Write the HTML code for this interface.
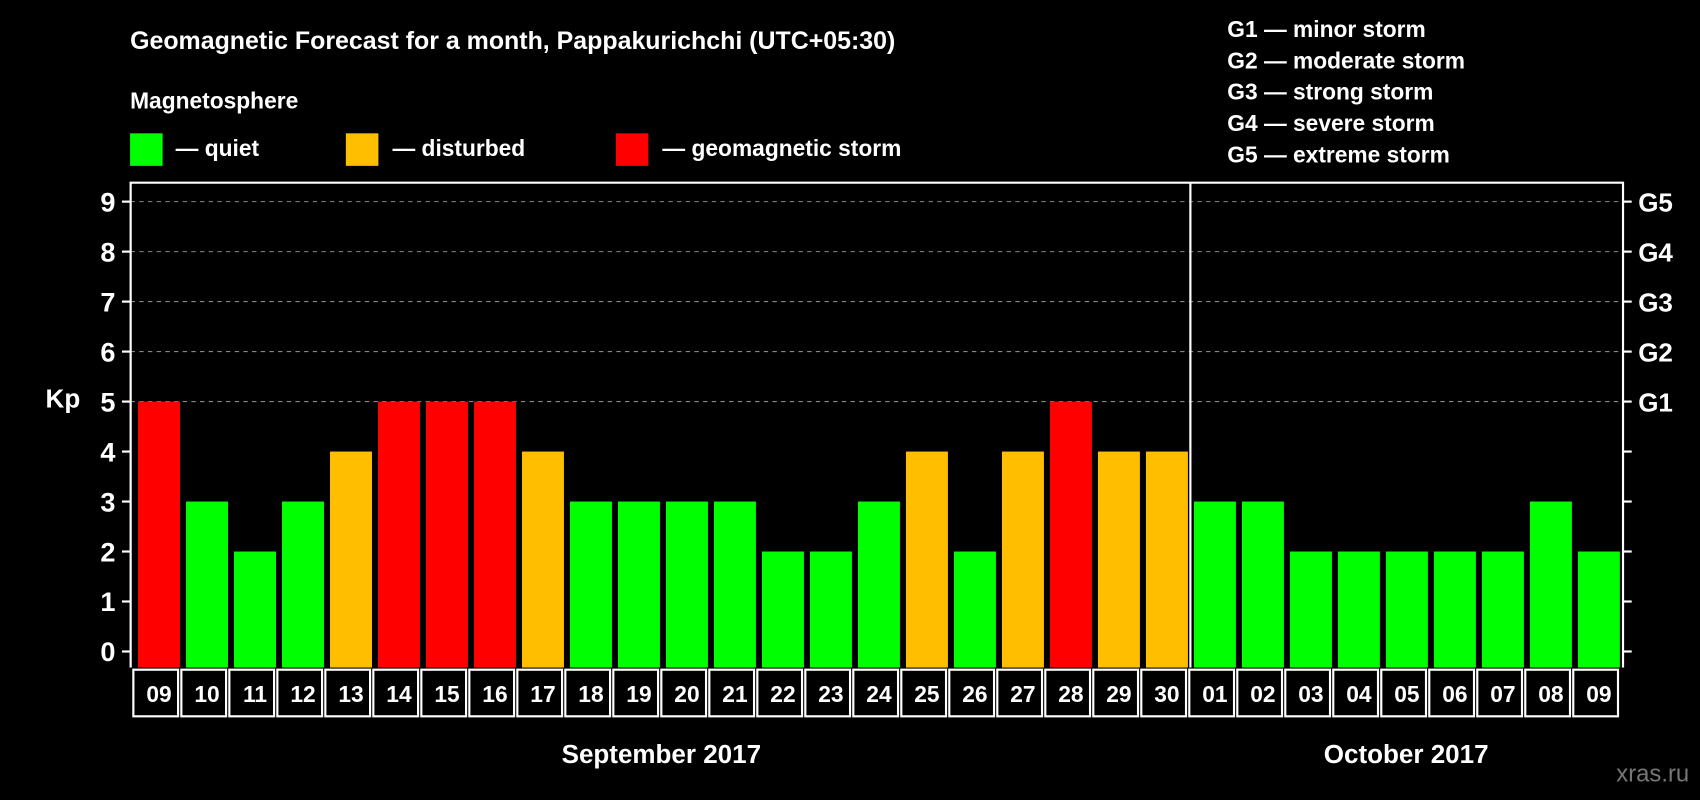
<!DOCTYPE html>
<html><head><meta charset="utf-8"><style>
html,body{margin:0;padding:0;background:#000;overflow:hidden}
svg{display:block}
text{font-family:"Liberation Sans",sans-serif;font-weight:bold;fill:#fff}
</style></head><body>
<svg id="chart" width="1700" height="800" viewBox="0 0 1568 738" preserveAspectRatio="none" xmlns="http://www.w3.org/2000/svg">
<rect width="1568" height="738" fill="#000"/>
<text x="120" y="45" font-size="23">Geomagnetic Forecast for a month, Pappakurichchi (UTC+05:30)</text>
<text x="120" y="100" font-size="21">Magnetosphere</text>
<g><rect x="120" y="123" width="30" height="30" fill="#00ff00"/><text x="162" y="144" font-size="21">— quiet</text></g>
<g><rect x="319" y="123" width="30" height="30" fill="#ffbf00"/><text x="362" y="144" font-size="21">— disturbed</text></g>
<g><rect x="568" y="123" width="30" height="30" fill="#ff0000"/><text x="611" y="144" font-size="21">— geomagnetic storm</text></g>
<g font-size="21">
<text x="1132" y="34">G1 — minor storm</text>
<text x="1132" y="63">G2 — moderate storm</text>
<text x="1132" y="92">G3 — strong storm</text>
<text x="1132" y="121">G4 — severe storm</text>
<text x="1132" y="150">G5 — extreme storm</text>
</g>
<g id="grid"></g>
<g id="bars"></g>
<g id="axes"></g>
<text x="58" y="376" font-size="24" text-anchor="middle">Kp</text>
<text x="610" y="704" font-size="24" text-anchor="middle">September 2017</text>
<text x="1297" y="704" font-size="24" text-anchor="middle">October 2017</text>
<text x="1558" y="721" font-size="22" text-anchor="end" fill="#777" style="fill:#777;font-weight:normal">xras.ru</text>
</svg>
<script>
const days = ["09","10","11","12","13","14","15","16","17","18","19","20","21","22","23","24","25","26","27","28","29","30","01","02","03","04","05","06","07","08","09"];
const kpValues = [5,3,2,3,4,5,5,5,4,3,3,3,3,2,2,3,4,2,4,5,4,4,3,3,2,2,2,2,2,3,2];
const yTicks = [0,1,2,3,4,5,6,7,8,9];
const gLabels = ["G1","G2","G3","G4","G5"];
const monthSplitIndex = 22;

const NS = "http://www.w3.org/2000/svg";
const plotL = 120.5, plotR = 1497, plotT = 168.5, plotB = 615.8;
const pitch = 44.27, barOff = 6.8, barW = 38.7;
const y0 = 601, unit = 46.11;
function yScale(v){ return y0 - v*unit; }
function xScale(i){ return plotL + barOff + i*pitch; }
function colorFor(v){ return v>=5 ? "#ff0000" : (v>=4 ? "#ffbf00" : "#00ff00"); }
function mk(tag, attrs, parent){ const e=document.createElementNS(NS,tag); for(const k in attrs) e.setAttribute(k,attrs[k]); parent.appendChild(e); return e; }

const grid = document.getElementById("grid"), bars = document.getElementById("bars"), axes = document.getElementById("axes");
yTicks.forEach(t=>{
  const y = yScale(t);
  if (t>=5){
    const gl = mk("line",{x1:plotL,x2:plotR,y1:y,y2:y,stroke:"#888","stroke-width":1,"stroke-dasharray":"4,4"},grid);
    
    
  }
  const tk = mk("line",{x1:plotL-8,x2:plotL,y1:y,y2:y,stroke:"#fff","stroke-width":2},axes);
  
  
  const tk2 = mk("line",{x1:plotR,x2:plotR+8,y1:y,y2:y,stroke:"#fff","stroke-width":2},axes);
  
  
  const lb = mk("text",{x:plotL-14,y:y+9,"font-size":25,"text-anchor":"end"},axes);
  lb.textContent = t;
  
  
});
gLabels.forEach((g,i)=>{
  const lb = mk("text",{x:plotR+14,y:yScale(5+i)+9,"font-size":24},axes);
  lb.textContent = g;
  
  
});
kpValues.forEach((v,i)=>{
  const x = xScale(i), top = yScale(v);
  const b = mk("rect",{x:x,y:top,width:barW,height:plotB-top,fill:colorFor(v)},bars);
  
  
});
days.forEach((d,i)=>{
  const cx = plotL + i*pitch;
  const c = mk("rect",{x:cx+2.5,y:plotB+2,width:pitch-3,height:43,fill:"#000",stroke:"#fff","stroke-width":2},axes);
  
  
  const t = mk("text",{x:xScale(i)+barW/2,y:plotB+32,"font-size":21,"text-anchor":"middle"},axes);
  t.textContent = d;
  
  
});
const frame = mk("path",{d:`M${plotL},${plotB} V${plotT} H${plotR} V${plotB}`,fill:"none",stroke:"#fff","stroke-width":2},axes);


const sx = xScale(monthSplitIndex) - (pitch-barW)/2 - 0.5;
const sep = mk("line",{x1:sx,x2:sx,y1:plotT,y2:plotB,stroke:"#fff","stroke-width":2},axes);


</script>
</body></html>
